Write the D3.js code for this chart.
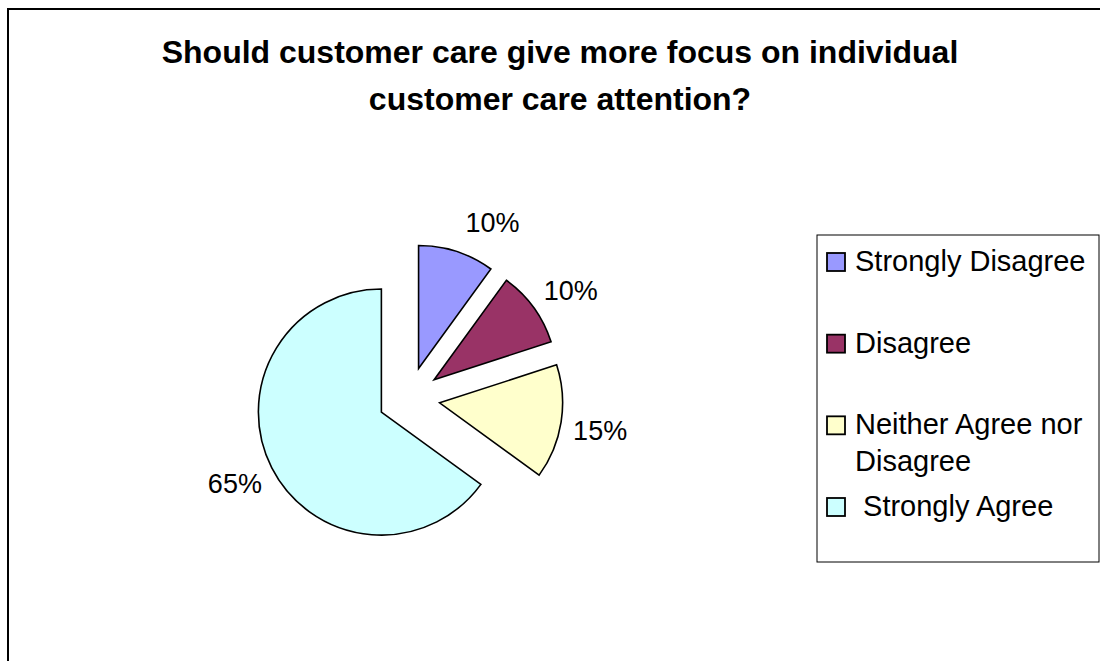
<!DOCTYPE html>
<html>
<head>
<meta charset="utf-8">
<script src="https://cdn.jsdelivr.net/npm/d3@7"></script>
<style>
  html, body { margin: 0; padding: 0; background: #ffffff; }
  svg { display: block; }
  text { font-family: "Liberation Sans", Arial, sans-serif; fill: #000; }
</style>
</head>
<body>
<svg id="chart" width="1100" height="661"></svg>
<script>
// ---- data ----
const categories = ["Strongly Disagree", "Disagree", "Neither Agree nor Disagree", "Strongly Agree"];
const legendLabels = [["Strongly Disagree"], ["Disagree"], ["Neither Agree nor", "Disagree"], [" Strongly Agree"]];
const values = [10, 10, 15, 65];
const colors = ["#9999FF", "#993366", "#FFFFCC", "#CCFFFF"];
const titleLines = ["Should customer care give more focus on individual", "customer care attention?"];

// ---- layout ----
const W = 1100, H = 661;
const cx = 409, cy = 398, radius = 123, explode = 31;
const labelRadius = 163;
const labelAngleNudge = [9, 3, 1, 1]; // degrees

const svg = d3.select("#chart");

// outer chart border
svg.append("rect")
  .attr("x", 8).attr("y", 9)
  .attr("width", W).attr("height", H)
  .attr("fill", "none").attr("stroke", "#000").attr("stroke-width", 2);

// title
svg.append("text")
  .attr("x", 560).attr("y", 63)
  .attr("text-anchor", "middle")
  .style("font-weight", "bold").style("font-size", "32px")
  .selectAll("tspan").data(titleLines).join("tspan")
  .attr("x", 560).attr("dy", (d, i) => i === 0 ? 0 : 47)
  .text(d => d);

// pie
const pie = d3.pie().sort(null).value(d => d);
const arcs = pie(values);
const arc = d3.arc().innerRadius(0).outerRadius(radius);

const g = svg.append("g").attr("transform", `translate(${cx},${cy})`);

g.selectAll("path.slice").data(arcs).join("path")
  .attr("class", "slice")
  .attr("d", arc)
  .attr("transform", d => {
    const a = (d.startAngle + d.endAngle) / 2;
    return `translate(${explode * Math.sin(a)},${-explode * Math.cos(a)})`;
  })
  .attr("fill", (d, i) => colors[i])
  .attr("stroke", "#000")
  .attr("stroke-width", 1.6)
  .attr("stroke-linejoin", "miter");

// data labels
g.selectAll("text.lbl").data(arcs).join("text")
  .attr("class", "lbl")
  .attr("text-anchor", "middle")
  .attr("dominant-baseline", "central")
  .style("font-size", "27px")
  .attr("x", (d, i) => {
    const a = (d.startAngle + d.endAngle) / 2;
    const b = a + labelAngleNudge[i] * Math.PI / 180;
    return explode * Math.sin(a) + labelRadius * Math.sin(b);
  })
  .attr("y", (d, i) => {
    const a = (d.startAngle + d.endAngle) / 2;
    const b = a + labelAngleNudge[i] * Math.PI / 180;
    return -explode * Math.cos(a) - labelRadius * Math.cos(b);
  })
  .text(d => d3.format(".0%")(d.data / d3.sum(values)));

// legend
const legX = 817, legY = 235, legW = 282, legH = 327;
svg.append("rect")
  .attr("x", legX).attr("y", legY)
  .attr("width", legW).attr("height", legH)
  .attr("fill", "#fff").attr("stroke", "#000").attr("stroke-width", 1);

const rowY = d3.scalePoint().domain(categories).range([253, 498]);
const sw = 18;
const leg = svg.append("g");
const rows = leg.selectAll("g.row").data(categories).join("g")
  .attr("class", "row")
  .attr("transform", d => `translate(0,${rowY(d)})`);

rows.append("rect")
  .attr("x", 827).attr("y", 0)
  .attr("width", sw).attr("height", sw)
  .attr("fill", (d, i) => colors[i])
  .attr("stroke", "#000").attr("stroke-width", 1.8);

rows.append("text")
  .attr("x", 855).attr("y", sw)
  .style("font-size", "29px")
  .attr("xml:space", "preserve")
  .style("white-space", "pre")
  .selectAll("tspan").data((d, i) => legendLabels[i]).join("tspan")
  .attr("x", 855).attr("dy", (d, i) => i === 0 ? 0 : 37)
  .text(d => d);
</script>
</body>
</html>
